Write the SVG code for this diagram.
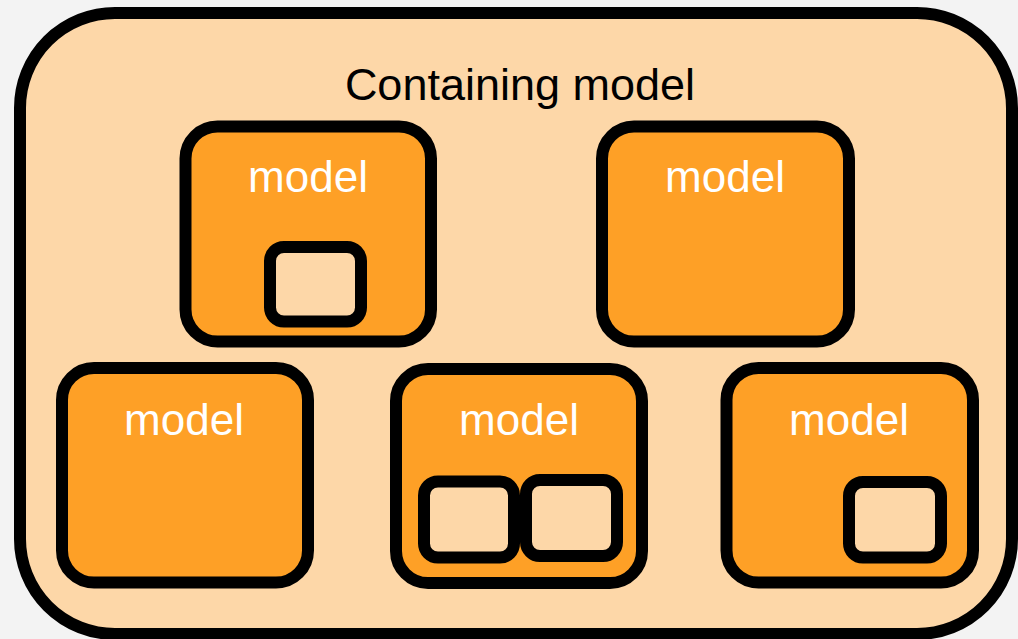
<svg xmlns="http://www.w3.org/2000/svg" width="1018" height="639" viewBox="0 0 1018 639">
<style>
.outer{fill:#FDD7A8;stroke:#000;stroke-width:12}
.box{fill:#FEA026;stroke:#000;stroke-width:12}
.sub{fill:#FDD7A8;stroke:#000;stroke-width:12}
.lbl{font-family:"Liberation Sans",Arial,sans-serif;font-size:44px;fill:#fff;text-anchor:middle}
.title{font-family:"Liberation Sans",Arial,sans-serif;font-size:45px;fill:#000;text-anchor:middle}
</style>
<rect width="1018" height="639" fill="#F3F3F3"/>
<g id="containing">
<rect class="outer" x="20" y="13" width="992" height="621" rx="95" ry="95"/>
<text class="title" x="520" y="100">Containing model</text>
</g>
<g id="model1">
<rect class="box" x="185.5" y="126.5" width="245.5" height="215" rx="32" ry="32"/>
<text class="lbl" x="308" y="192">model</text>
<rect class="sub" x="270" y="247" width="91" height="74.5" rx="14" ry="14"/>
</g>
<g id="model2">
<rect class="box" x="602" y="126.5" width="247" height="215" rx="32" ry="32"/>
<text class="lbl" x="725" y="192">model</text>
</g>
<g id="model3">
<rect class="box" x="62" y="368" width="246" height="214.5" rx="32" ry="32"/>
<text class="lbl" x="184" y="435">model</text>
</g>
<g id="model4">
<rect class="box" x="396" y="369" width="246" height="214" rx="32" ry="32"/>
<text class="lbl" x="519" y="435">model</text>
<rect class="sub" x="424" y="481.5" width="90" height="76" rx="14" ry="14"/>
<rect class="sub" x="526" y="480" width="91" height="76" rx="14" ry="14"/>
</g>
<g id="model5">
<rect class="box" x="726.5" y="368" width="246.5" height="214.5" rx="32" ry="32"/>
<text class="lbl" x="849" y="435">model</text>
<rect class="sub" x="849" y="482" width="92" height="75.5" rx="14" ry="14"/>
</g>
<g id="connectors"/>
</svg>
